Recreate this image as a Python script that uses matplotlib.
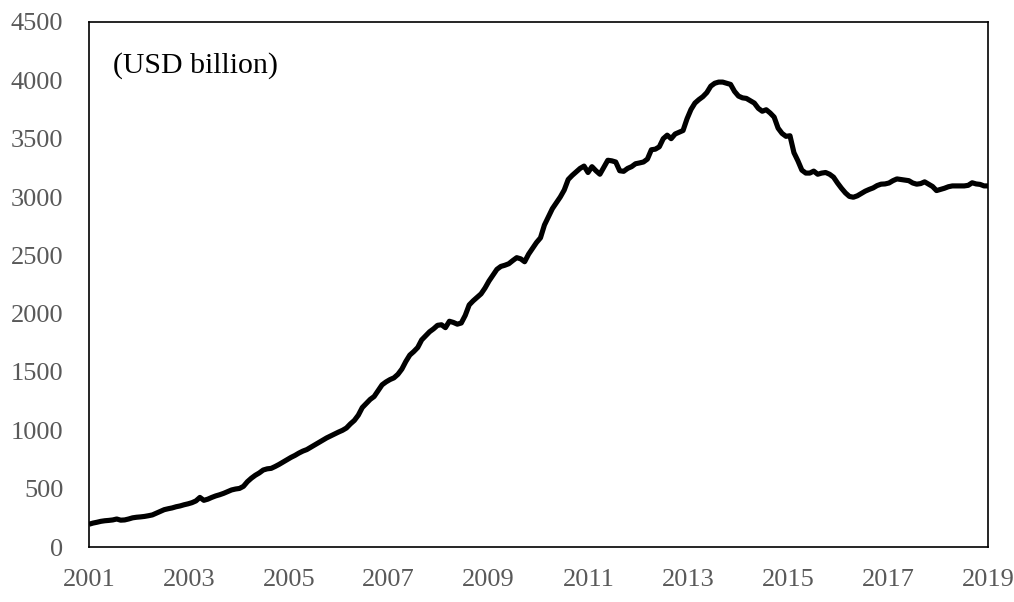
import matplotlib
matplotlib.use("Agg")
import matplotlib.pyplot as plt
import numpy as np

# Monthly values (USD billion), Jan 2001 .. Dec 2019
reserves_2001 = [195, 205, 212, 220, 225, 228, 232, 240, 230, 232, 240, 250]
reserves_2002 = [255, 258, 262, 268, 275, 290, 305, 320, 328, 335, 345, 352]
reserves_2003 = [362, 370, 380, 395, 425, 400, 410, 425, 438, 448, 460, 475]
reserves_2004 = [489, 497, 502, 520, 560, 590, 615, 635, 660, 670, 674, 690]
reserves_2005 = [708, 728, 748, 768, 785, 805, 822, 835, 855, 875, 895, 915]
reserves_2006 = [935, 952, 970, 985, 1000, 1020, 1055, 1085, 1130, 1195, 1230, 1265]
reserves_2007 = [1290, 1340, 1390, 1415, 1435, 1450, 1480, 1525, 1590, 1645, 1675, 1710]
reserves_2008 = [1775, 1810, 1845, 1870, 1900, 1905, 1880, 1935, 1925, 1910, 1920, 1985]
reserves_2009 = [2075, 2110, 2140, 2170, 2220, 2280, 2330, 2380, 2405, 2415, 2428, 2455]
reserves_2010 = [2480, 2470, 2445, 2510, 2560, 2610, 2650, 2760, 2830, 2900, 2950, 3000]
reserves_2011 = [3060, 3150, 3185, 3215, 3245, 3265, 3210, 3260, 3225, 3195, 3255, 3315]
reserves_2012 = [3310, 3300, 3225, 3220, 3245, 3260, 3285, 3292, 3300, 3325, 3405, 3410]
reserves_2013 = [3430, 3500, 3530, 3500, 3540, 3555, 3570, 3670, 3750, 3805, 3835, 3860]
reserves_2014 = [3895, 3950, 3975, 3985, 3985, 3975, 3965, 3905, 3865, 3850, 3845, 3825]
reserves_2015 = [3805, 3760, 3735, 3748, 3720, 3685, 3590, 3545, 3520, 3525, 3380, 3310]
reserves_2016 = [3230, 3205, 3205, 3222, 3195, 3205, 3210, 3195, 3170, 3120, 3075, 3035]
reserves_2017 = [3005, 2998, 3010, 3030, 3050, 3065, 3078, 3098, 3110, 3112, 3120, 3140]
reserves_2018 = [3155, 3150, 3145, 3140, 3120, 3110, 3115, 3130, 3110, 3090, 3055, 3065]
reserves_2019 = [3075, 3088, 3095, 3095, 3095, 3095, 3100, 3122, 3112, 3108, 3095, 3095]

values = (reserves_2001 + reserves_2002 + reserves_2003 + reserves_2004 + reserves_2005
          + reserves_2006 + reserves_2007 + reserves_2008 + reserves_2009 + reserves_2010
          + reserves_2011 + reserves_2012 + reserves_2013 + reserves_2014 + reserves_2015
          + reserves_2016 + reserves_2017 + reserves_2018 + reserves_2019)

x_labels = ["2001", "2003", "2005", "2007", "2009", "2011", "2013", "2015", "2017", "2019"]
y_ticks = [0, 500, 1000, 1500, 2000, 2500, 3000, 3500, 4000, 4500]
unit_label = "(USD billion)"

plt.rcParams['font.family'] = ['Liberation Serif', 'DejaVu Serif']

fig = plt.figure(figsize=(10.14, 6.02), dpi=100)
ax = fig.add_axes([89/1014, 1-547/602, (988-89)/1014, (547-22)/602])

n = len(values)
x_start, x_end = 2001, 2019
xs = np.linspace(x_start, x_end, n)
ax.plot(xs, values, color='black', linewidth=3.7, solid_joinstyle='round', solid_capstyle='butt')

ax.set_xlim(x_start, x_end)
ax.set_ylim(0, 4500)
ax.set_xticks([int(s) for s in x_labels])
ax.set_xticklabels(x_labels)
ax.set_yticks(y_ticks)
ax.set_yticklabels([str(v) for v in y_ticks])
ax.tick_params(axis='both', length=0, labelsize=19, labelcolor='#595959')
ax.tick_params(axis='y', pad=18.5)
ax.tick_params(axis='x', pad=16)
for s in ax.spines.values():
    s.set_linewidth(1.2)
    s.set_color('black')

ax.text(0.027, 0.918, unit_label, transform=ax.transAxes, fontsize=21.5,
        ha='left', va='center', color='black')

fig.savefig("out.png", dpi=100)
